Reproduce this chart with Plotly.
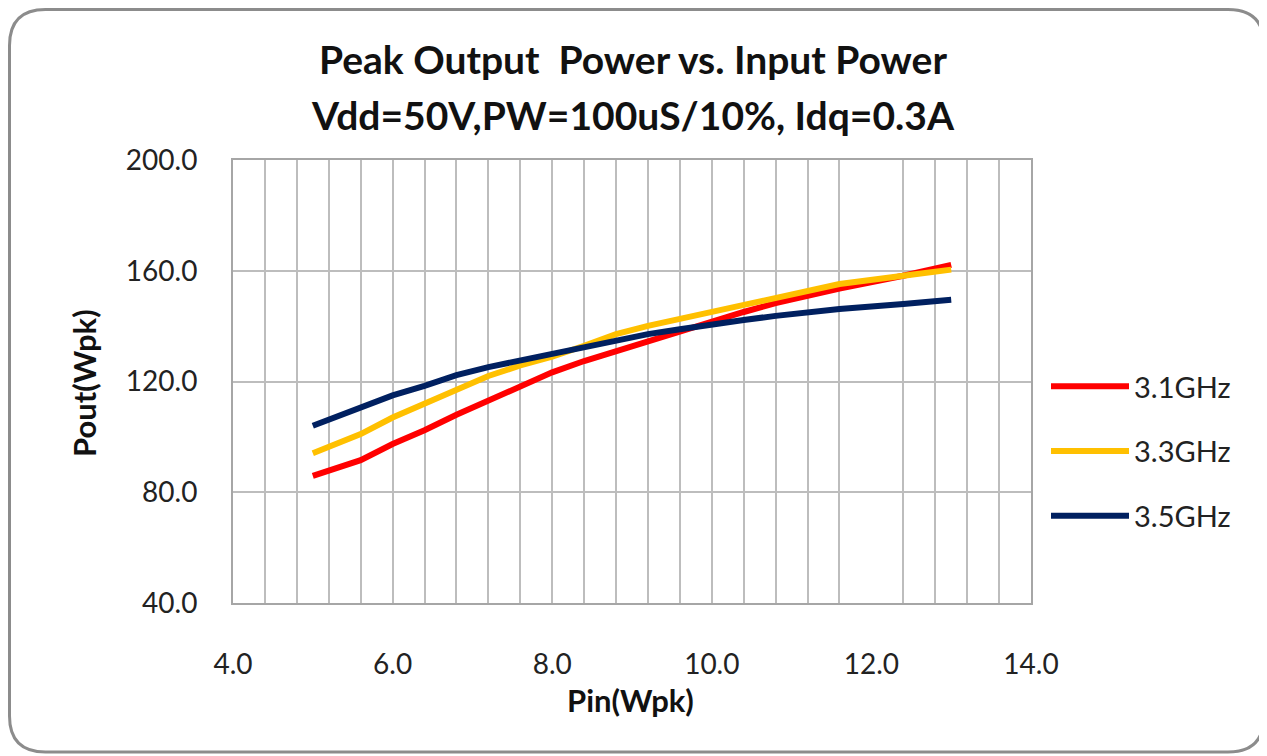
import plotly.graph_objects as go

# Data
pin_31 = [5.0, 5.6, 6.0, 6.4, 6.8, 7.2, 7.6, 8.0, 8.4, 8.8, 9.2, 9.6, 10.0, 10.4, 10.8, 11.2, 11.6, 12.4, 12.8, 13.0]
pout_31 = [85.9, 91.6, 97.4, 102.4, 108.0, 113.0, 117.8, 123.3, 127.4, 131.0, 134.7, 138.3, 141.9, 145.1, 148.3, 150.9, 153.6, 158.2, 160.9, 162.1]

pin_33 = [5.0, 5.6, 6.0, 6.4, 6.8, 7.2, 7.6, 8.0, 8.4, 8.8, 9.2, 9.6, 10.0, 10.4, 10.8, 11.2, 11.6, 12.4, 12.8, 13.0]
pout_33 = [94.1, 101.0, 107.0, 112.2, 117.2, 122.0, 125.8, 129.0, 132.9, 137.1, 140.1, 142.7, 145.1, 147.9, 150.3, 153.0, 155.2, 158.2, 159.6, 160.4]

pin_35 = [5.0, 5.6, 6.0, 6.4, 6.8, 7.2, 7.6, 8.0, 8.4, 8.8, 9.2, 9.6, 10.0, 10.4, 10.8, 11.2, 11.6, 12.4, 12.8, 13.0]
pout_35 = [104.0, 110.6, 115.0, 118.4, 122.3, 125.2, 127.6, 129.9, 132.3, 134.7, 137.1, 138.9, 140.7, 142.2, 143.7, 145.0, 146.2, 148.0, 149.2, 149.5]

series_names = ["3.1GHz", "3.3GHz", "3.5GHz"]
series_colors = ["#FF0000", "#FFC000", "#002060"]

x_ticks = [4.0, 6.0, 8.0, 10.0, 12.0, 14.0]
y_ticks = [40.0, 80.0, 120.0, 160.0, 200.0]
# vertical grid lines as drawn in the reference (every 0.4, the one at 12.0 is absent)
x_grid = [round(4.0 + 0.4 * i, 1) for i in range(26) if round(4.0 + 0.4 * i, 1) != 12.0]

W, H = 1267, 756
OFF = 8  # page body margin offset
L, T = 233 - OFF, 160 - OFF
pw, ph = 798, 443
R, B = W - L - pw, H - T - ph

def px(x):  # page pixel -> paper
    return (x - OFF - L) / pw

def py(y):
    return (T + ph - (y - OFF)) / ph

fig = go.Figure()
for xs, ys, name, col in zip([pin_31, pin_33, pin_35], [pout_31, pout_33, pout_35], series_names, series_colors):
    fig.add_trace(go.Scatter(x=xs, y=ys, mode="lines", name=name, legendgroup=name,
                             line=dict(color=col, width=6)))

grid_col = "#BDBDBD"
font_main = "Lato, 'Open Sans', sans-serif"
txt_col = "#222222"

fig.update_layout(
    width=W, height=H,
    margin=dict(l=L, r=R, t=T, b=B),
    paper_bgcolor="white", plot_bgcolor="white",
    font=dict(family=font_main, color=txt_col),
    showlegend=True,
    legend=dict(x=px(1046), y=py(361), xanchor="left", yanchor="top",
                font=dict(size=29, color=txt_col, family=font_main),
                tracegroupgap=24, itemwidth=78, bgcolor="rgba(0,0,0,0)"),
    xaxis=dict(range=[4.0, 14.0], tickvals=x_ticks, ticktext=[f"{v:.1f}" for v in x_ticks],
               showgrid=False,
               minor=dict(tickmode="array", tickvals=x_grid, showgrid=True,
                          gridcolor=grid_col, gridwidth=1.5, ticks=""),
               showline=True, linecolor="#A6A6A6", linewidth=2, mirror=True,
               ticks="", tickfont=dict(size=28, family=font_main, color=txt_col),
               ticklabelstandoff=35, zeroline=False),
    yaxis=dict(range=[40.0, 200.0], tickvals=y_ticks, ticktext=[f"{v:.1f}" for v in y_ticks],
               showgrid=True, gridcolor=grid_col, gridwidth=1.5,
               showline=True, linecolor="#A6A6A6", linewidth=2, mirror=True,
               ticks="", tickfont=dict(size=28, family=font_main, color=txt_col),
               ticklabelstandoff=28, zeroline=False),
)

# Titles as annotations
def ann(text, x, y, size, angle=0):
    fig.add_annotation(text=text, x=px(x), y=py(y), xref="paper", yref="paper",
                       xanchor="center", yanchor="middle", showarrow=False, textangle=angle,
                       font=dict(size=size, family=font_main, color="#111111"))

ann("<b>Peak Output  Power vs. Input Power</b>", 633, 59, 39)
ann("<b>Vdd=50V,PW=100uS/10%, Idq=0.3A</b>", 633, 115, 39)
ann("<b>Pin(Wpk)</b>", 630, 700, 31)
ann("<b>Pout(Wpk)</b>", 84, 383, 31, -90)

# Rounded outer border
x0, y0, x1, y1, r = 9.5, 9.5, 1264, 752, 36
path = (f"M {px(x0+r)},{py(y0)} L {px(x1-r)},{py(y0)} Q {px(x1)},{py(y0)} {px(x1)},{py(y0+r)} "
        f"L {px(x1)},{py(y1-r)} Q {px(x1)},{py(y1)} {px(x1-r)},{py(y1)} "
        f"L {px(x0+r)},{py(y1)} Q {px(x0)},{py(y1)} {px(x0)},{py(y1-r)} "
        f"L {px(x0)},{py(y0+r)} Q {px(x0)},{py(y0)} {px(x0+r)},{py(y0)} Z")
fig.add_shape(type="path", path=path, xref="paper", yref="paper",
              line=dict(color="#8C8C8C", width=3), layer="below")

fig.write_html("out.html")
